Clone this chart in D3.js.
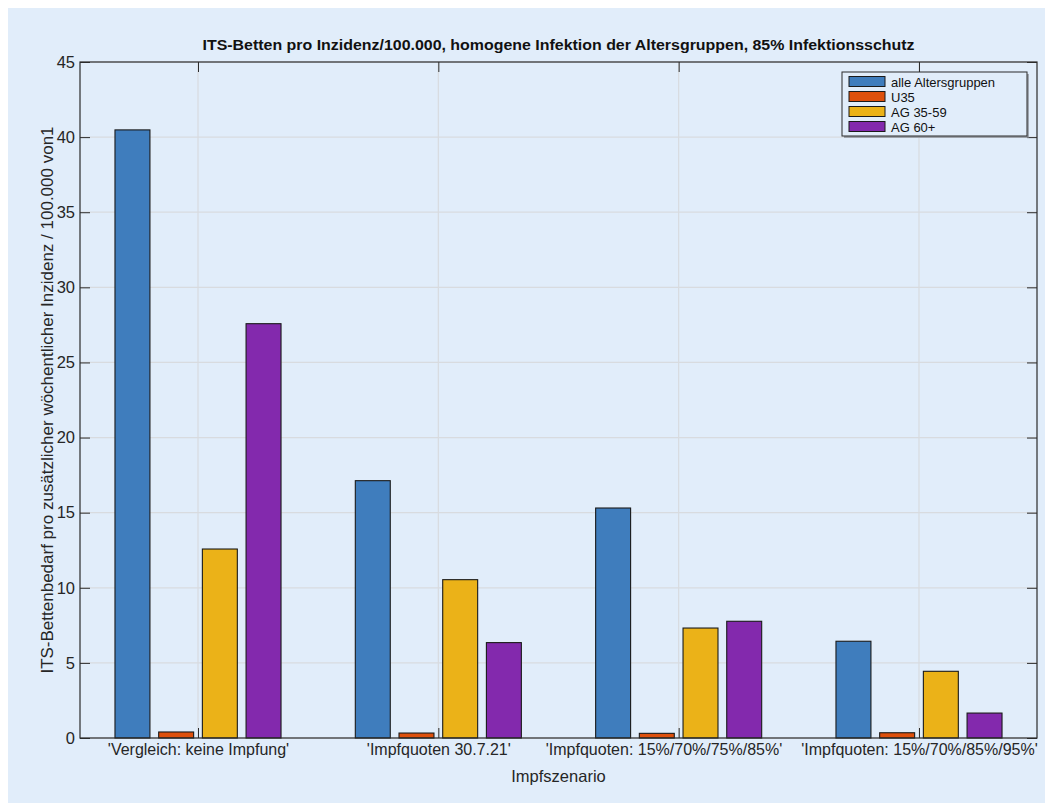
<!DOCTYPE html>
<html>
<head>
<meta charset="utf-8">
<script src="https://cdn.jsdelivr.net/npm/d3@7"></script>
<style>
  html, body { margin: 0; padding: 0; background: #ffffff; }
  svg { display: block; font-family: "Liberation Sans", Arial, Helvetica, sans-serif; }
</style>
</head>
<body>
<svg id="chart" width="1053" height="812"></svg>
<script>
// Scenarios on the x axis
const categories = [
  "'Vergleich: keine Impfung'",
  "'Impfquoten 30.7.21'",
  "'Impfquoten: 15%/70%/75%/85%'",
  "'Impfquoten: 15%/70%/85%/95%'"
];
// Age groups (one bar each per scenario)
const seriesNames = ["alle Altersgruppen", "U35", "AG 35-59", "AG 60+"];
const seriesColors = ["#3f7dbd", "#de500c", "#ebb218", "#8329ad"];
// ICU beds per additional weekly incidence / 100,000
const valuesAll   = [40.48, 17.13, 15.31, 6.44];
const valuesU35   = [0.40, 0.33, 0.31, 0.35];
const values3559  = [12.58, 10.54, 7.32, 4.44];
const values60    = [27.58, 6.35, 7.77, 1.66];
const yTicks = [0, 5, 10, 15, 20, 25, 30, 35, 40, 45];

const titleText = "ITS-Betten pro Inzidenz/100.000, homogene Infektion der Altersgruppen, 85% Infektionsschutz";
const yLabelText = "ITS-Bettenbedarf pro zusätzlicher wöchentlicher Inzidenz / 100.000 von1";
const xLabelText = "Impfszenario";

const seriesValues = [valuesAll, valuesU35, values3559, values60];

const svg = d3.select("#chart");
const plot = { left: 80, right: 1037, top: 62, bottom: 738 };
const FONT = "'Liberation Sans', Arial, Helvetica, sans-serif";

// figure panel
svg.append("rect")
  .attr("x", 8).attr("y", 8)
  .attr("width", 1037).attr("height", 795)
  .attr("fill", "#e1edfa");

const x = d3.scalePoint()
  .domain(categories)
  .range([plot.left, plot.right])
  .padding(0.491);

const step = x.step();
const groupWidth = Math.min(0.8, 4 / (4 + 1.5));
const barStep = groupWidth / 4;
const barWidth = barStep * 0.8 * step;

const offset = d3.scaleLinear()
  .domain([0, seriesNames.length - 1])
  .range([-(1.5 * barStep) * step, (1.5 * barStep) * step]);

const y = d3.scaleLinear()
  .domain([0, 45])
  .range([plot.bottom, plot.top]);

// grid
const grid = svg.append("g").attr("class", "grid");
grid.selectAll("line.h").data(yTicks).join("line")
  .attr("x1", plot.left).attr("x2", plot.right)
  .attr("y1", d => y(d)).attr("y2", d => y(d))
  .attr("stroke", "#d8dbdf").attr("stroke-width", 1.2);
grid.selectAll("line.v").data(categories).join("line")
  .attr("x1", d => x(d)).attr("x2", d => x(d))
  .attr("y1", plot.top).attr("y2", plot.bottom)
  .attr("stroke", "#d8dbdf").attr("stroke-width", 1.2);

// bars
const rows = [];
seriesValues.forEach((vals, si) => {
  vals.forEach((v, ci) => rows.push({ si, ci, v }));
});
svg.append("g").attr("class", "bars")
  .selectAll("rect").data(rows).join("rect")
  .attr("x", d => x(categories[d.ci]) + offset(d.si) - barWidth / 2)
  .attr("y", d => y(d.v))
  .attr("width", barWidth)
  .attr("height", d => y(0) - y(d.v))
  .attr("fill", d => seriesColors[d.si])
  .attr("stroke", "#1a1a1a")
  .attr("stroke-width", 1.1);

// axes (box with inward ticks)
const tickLen = 10;
const axisColor = "#2b2b2b";

const yAxisL = d3.axisLeft(y).tickValues(yTicks).tickSize(-tickLen).tickPadding(5);
const gyl = svg.append("g").attr("transform", `translate(${plot.left},0)`).call(yAxisL);
gyl.attr("font-size", null).attr("font-family", null);
gyl.selectAll("text").attr("fill", "#262626")
  .style("font-size", "16.5px").style("font-family", FONT);

const yAxisR = d3.axisRight(y).tickValues(yTicks).tickSize(-tickLen).tickFormat("");
svg.append("g").attr("transform", `translate(${plot.right},0)`).call(yAxisR);

const xAxisB = d3.axisBottom(x).tickSize(-tickLen).tickPadding(6);
const gxb = svg.append("g").attr("transform", `translate(0,${plot.bottom})`).call(xAxisB);
gxb.attr("font-size", null).attr("font-family", null);
gxb.selectAll("text").attr("fill", "#262626")
  .style("font-size", "16px").style("font-family", FONT);

// nudge crowded category labels leftwards so neighbours keep a small gap
(function spreadLabels() {
  const labels = gxb.selectAll(".tick text").nodes();
  const widths = labels.map(n => n.getComputedTextLength());
  const shift = labels.map(() => 0);
  const gap = 19;
  for (let i = labels.length - 2; i >= 1; i--) {
    const right = x(categories[i]) + shift[i] + widths[i] / 2;
    const nextLeft = x(categories[i + 1]) + shift[i + 1] - widths[i + 1] / 2;
    const over = right + gap - nextLeft;
    if (over > 0) shift[i] -= over;
  }
  labels.forEach((n, i) => { if (shift[i]) n.setAttribute("dx", shift[i]); });
})();

const xAxisT = d3.axisTop(x).tickSize(-tickLen).tickFormat("");
svg.append("g").attr("transform", `translate(0,${plot.top})`).call(xAxisT);

svg.selectAll(".domain").remove();
svg.selectAll(".tick line").attr("stroke", axisColor).attr("stroke-width", 1);

// axes box
svg.append("rect")
  .attr("x", plot.left).attr("y", plot.top)
  .attr("width", plot.right - plot.left).attr("height", plot.bottom - plot.top)
  .attr("fill", "none").attr("stroke", axisColor).attr("stroke-width", 1.2);

// title
svg.append("text")
  .attr("x", (plot.left + plot.right) / 2).attr("y", 50)
  .attr("text-anchor", "middle")
  .attr("font-size", 14).attr("font-weight", "bold").attr("fill", "#111")
  .attr("textLength", 712).attr("lengthAdjust", "spacingAndGlyphs")
  .text(titleText);

// axis labels
svg.append("text")
  .attr("transform", `translate(53,${(plot.top + plot.bottom) / 2}) rotate(-90)`)
  .attr("text-anchor", "middle")
  .attr("font-size", 17).attr("fill", "#262626")
  .text(yLabelText);

svg.append("text")
  .attr("x", (plot.left + plot.right) / 2).attr("y", 782)
  .attr("text-anchor", "middle")
  .attr("font-size", 16.5).attr("fill", "#262626")
  .text(xLabelText);

// legend
const lg = { x: 842, y: 72, w: 185, h: 64 };
svg.append("path")
  .attr("d", `M${lg.x + lg.w + 1},${lg.y + 2} V${lg.y + lg.h + 1} H${lg.x + 2}`)
  .attr("fill", "none").attr("stroke", "#8a8f96").attr("stroke-width", 1.5);
svg.append("rect")
  .attr("x", lg.x).attr("y", lg.y).attr("width", lg.w).attr("height", lg.h)
  .attr("fill", "#e1edfa").attr("stroke", axisColor).attr("stroke-width", 1);

const legendRow = d3.scaleLinear().domain([0, 3]).range([lg.y + 9.5, lg.y + 54.5]);
const lgItems = svg.append("g").selectAll("g").data(seriesNames).join("g")
  .attr("transform", (d, i) => `translate(${lg.x},${legendRow(i)})`);
lgItems.append("rect")
  .attr("x", 7).attr("y", -5).attr("width", 36).attr("height", 10)
  .attr("fill", (d, i) => seriesColors[i])
  .attr("stroke", "#1a1a1a").attr("stroke-width", 1);
lgItems.append("text")
  .attr("x", 49).attr("y", 5)
  .attr("font-size", 13).attr("fill", "#111")
  .text(d => d);
</script>
</body>
</html>
